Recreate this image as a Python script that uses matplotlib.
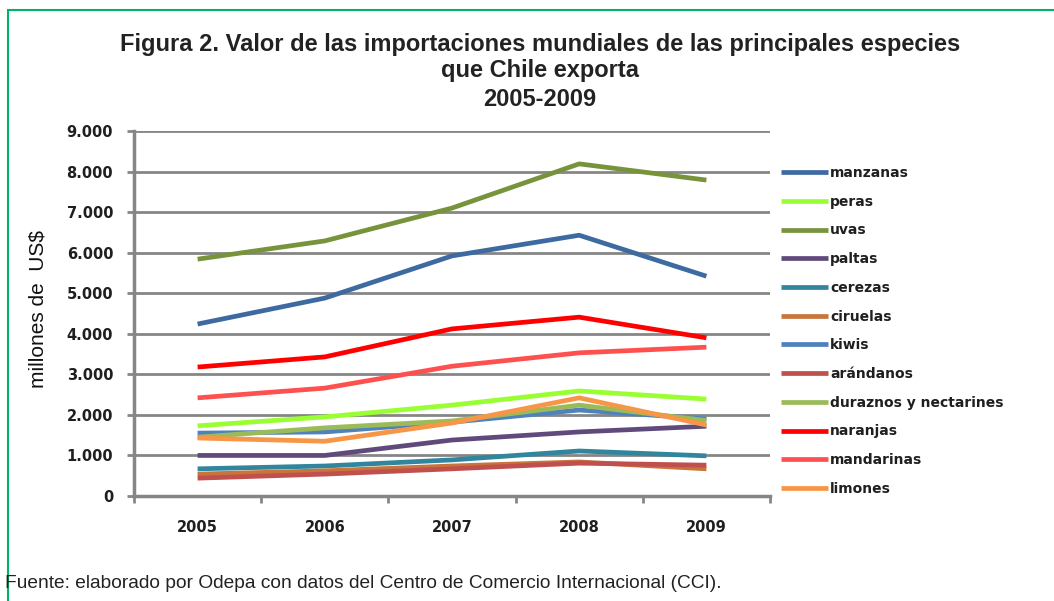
import matplotlib.pyplot as plt
import matplotlib.patches as mpatches
import numpy as np

years = ["2005", "2006", "2007", "2008", "2009"]

manzanas = [4240, 4880, 5920, 6430, 5420]
peras = [1730, 1950, 2240, 2590, 2390]
uvas = [5840, 6290, 7100, 8190, 7790]
paltas = [1000, 1000, 1380, 1580, 1720]
cerezas = [670, 740, 890, 1110, 990]
ciruelas = [540, 620, 740, 840, 670]
kiwis = [1550, 1580, 1820, 2120, 1900]
arandanos = [440, 540, 670, 810, 760]
duraznos = [1450, 1680, 1850, 2240, 1860]
naranjas = [3180, 3430, 4120, 4410, 3900]
mandarinas = [2420, 2660, 3200, 3530, 3670]
limones = [1430, 1350, 1800, 2420, 1750]

series = [
    ("manzanas", manzanas, "#3D6AA1"),
    ("peras", peras, "#99FF33"),
    ("uvas", uvas, "#77933C"),
    ("paltas", paltas, "#604A7B"),
    ("cerezas", cerezas, "#31859C"),
    ("ciruelas", ciruelas, "#C8743A"),
    ("kiwis", kiwis, "#4F81BD"),
    ("arándanos", arandanos, "#C0504D"),
    ("duraznos y nectarines", duraznos, "#9BBB59"),
    ("naranjas", naranjas, "#FF0000"),
    ("mandarinas", mandarinas, "#FF5050"),
    ("limones", limones, "#F79646"),
]

W, H = 1054, 601
fig = plt.figure(figsize=(W / 100, H / 100), dpi=100)

# green frame (only left and top edges visible)
rect = mpatches.Rectangle((8 / W, -0.05), 1.1, 1 - 10 / H + 0.05, fill=False,
                          edgecolor="#00B36B", lw=1.5, transform=fig.transFigure,
                          figure=fig)
fig.patches.append(rect)

ax = fig.add_axes([134 / W, 1 - 496 / H, (770 - 134) / W, (496 - 131) / H])

x = np.arange(len(years))
for name, vals, col in series:
    ax.plot(x, vals, color=col, lw=3.4, label=name, solid_capstyle="butt", zorder=3)

ax.set_xlim(-0.5, 4.5)
ax.set_ylim(0, 9000)
ax.set_yticks(np.arange(0, 9001, 1000))
ax.set_yticklabels(["0"] + ["{:,}".format(v).replace(",", ".") for v in range(1000, 9001, 1000)])
ax.set_xticks(x)
ax.set_xticklabels(years)
ax.set_xticks(np.arange(-0.5, 4.6, 1), minor=True)
ax.tick_params(axis="x", which="major", length=0, pad=17)
ax.tick_params(axis="x", which="minor", length=5, width=2, color="#868686", direction="out")
ax.tick_params(axis="y", length=5, width=2, color="#868686", pad=10)
for lab in ax.get_xticklabels() + ax.get_yticklabels():
    lab.set_fontsize(10.5)
    lab.set_fontweight("bold")
    lab.set_color("#1f1f1f")

ax.grid(axis="y", color="#868686", lw=2)
ax.set_axisbelow(True)
for s in ["top", "right"]:
    ax.spines[s].set_visible(False)
for s in ["left", "bottom"]:
    ax.spines[s].set_color("#868686")
    ax.spines[s].set_linewidth(2.5)

leg = fig.legend(loc="upper left", bbox_to_anchor=(774 / W, 1 - 159 / H), frameon=False,
                 borderpad=0, handlelength=3.4, handletextpad=0.15, labelspacing=1.06,
                 prop={"size": 10, "weight": "bold"})
for t in leg.get_texts():
    t.set_color("#1f1f1f")
for h in leg.get_lines():
    h.set_linewidth(3.4)

tkw = dict(ha="center", va="center", fontsize=17, fontweight="bold",
           family="Liberation Sans", color="#222222")
fig.text(540 / W, 1 - 45 / H, "Figura 2. Valor de las importaciones mundiales de las principales especies", **tkw)
fig.text(540 / W, 1 - 70 / H, "que Chile exporta", **tkw)
fig.text(540 / W, 1 - 99 / H, "2005-2009", **tkw)

fig.text(38 / W, 1 - 309 / H, "millones de  US$", rotation=90, ha="center", va="center",
         fontsize=15, family="Liberation Sans", color="#111111")

fig.text(5 / W, 1 - 583 / H, "Fuente: elaborado por Odepa con datos del Centro de Comercio Internacional (CCI).",
         ha="left", va="center", fontsize=13.8, family="Liberation Sans", color="#222222")

fig.savefig("out.png", dpi=100)
